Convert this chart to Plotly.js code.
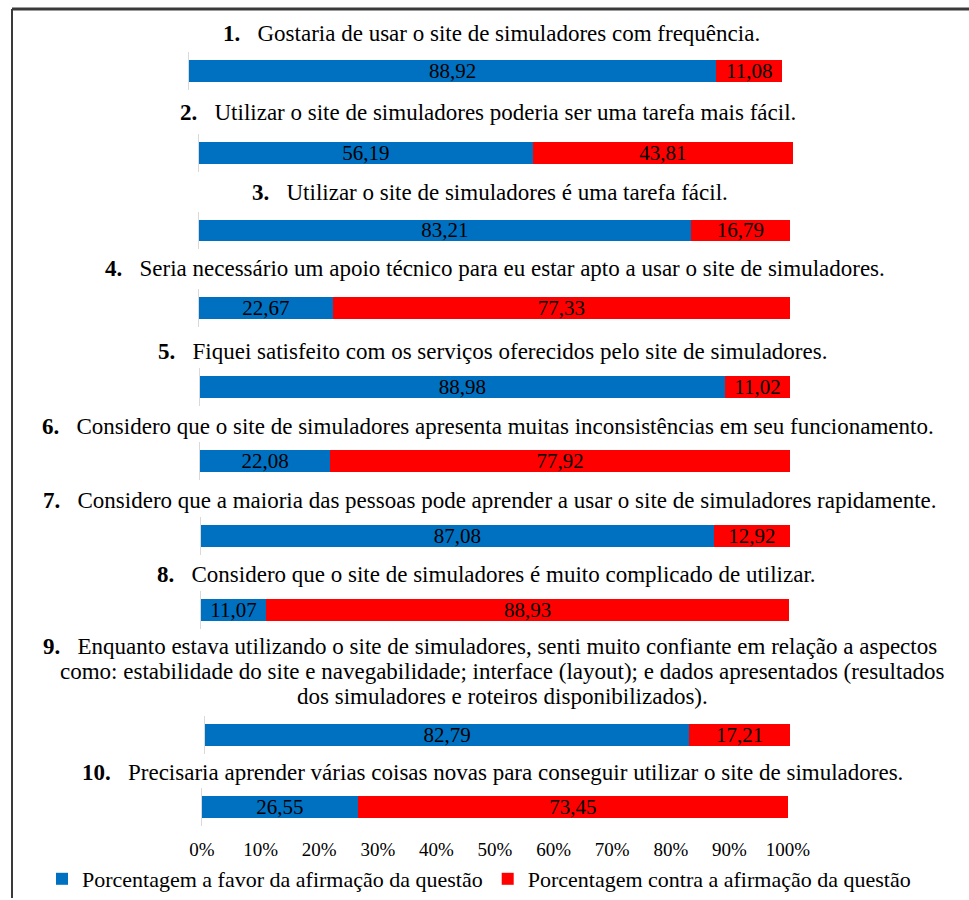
<!DOCTYPE html>
<html>
<head>
<meta charset="utf-8">
<script src="https://cdn.plot.ly/plotly-3.0.1.min.js"></script>
</head>
<body style="margin:0;background:#fff">
<div id="chart" style="width:969px;height:900px"></div>
<script>
// ---- data ----
const questionNumbers = ['1.', '2.', '3.', '4.', '5.', '6.', '7.', '8.', '9.', '10.'];
const questions = [
  'Gostaria de usar o site de simuladores com frequência.',
  'Utilizar o site de simuladores poderia ser uma tarefa mais fácil.',
  'Utilizar o site de simuladores é uma tarefa fácil.',
  'Seria necessário um apoio técnico para eu estar apto a usar o site de simuladores.',
  'Fiquei satisfeito com os serviços oferecidos pelo site de simuladores.',
  'Considero que o site de simuladores apresenta muitas inconsistências em seu funcionamento.',
  'Considero que a maioria das pessoas pode aprender a usar o site de simuladores rapidamente.',
  'Considero que o site de simuladores é muito complicado de utilizar.',
  'Enquanto estava utilizando o site de simuladores, senti muito confiante em relação a aspectos<br>como: estabilidade do site e navegabilidade; interface (layout); e dados apresentados (resultados<br>dos simuladores e roteiros disponibilizados).',
  'Precisaria aprender várias coisas novas para conseguir utilizar o site de simuladores.'
];
const favor  = [88.92, 56.19, 83.21, 22.67, 88.98, 22.08, 87.08, 11.07, 82.79, 26.55];
const contra = [11.08, 43.81, 16.79, 77.33, 11.02, 77.92, 12.92, 88.93, 17.21, 73.45];
const seriesNames = ['Porcentagem a favor da afirmação da questão', 'Porcentagem contra a afirmação da questão'];
const tickValues = [0, 10, 20, 30, 40, 50, 60, 70, 80, 90, 100];
const tickLabels = ['0%', '10%', '20%', '30%', '40%', '50%', '60%', '70%', '80%', '90%', '100%'];

// ---- layout (pixel placement of each row) ----
const W = 969, H = 900;
const barCenter = [71, 153, 231, 309, 388, 462, 537, 611, 737, 809];
const barLeft   = [189, 199, 199, 199, 200, 200, 201, 201, 205, 202];
const barRight  = [782, 793, 790, 790, 790, 790, 790, 789, 790, 788];
const titleY    = [34, 113, 193, 269, 352, 427, 502, 576, 648, 774];
const titleX    = [491, 488, 490, 495, 492, 488, 490, 487, 490, 492];
const lineStep  = 25;
const rowHalf = 19;
const FONT = 'Liberation Serif';
const BLUE = '#0070C0', RED = '#FF0000';

const px = v => v / W;
const py = v => 1 - v / H;

const traces = [];
const layout = {
  width: W, height: H,
  margin: {l: 0, r: 0, t: 0, b: 0},
  paper_bgcolor: '#ffffff', plot_bgcolor: 'rgba(0,0,0,0)',
  barmode: 'stack', bargap: 1 - 22 / (2 * rowHalf),
  separators: ',.',
  font: {family: FONT, color: '#000'},
  showlegend: true,
  legend: {orientation: 'h', x: px(42), xanchor: 'left', y: py(881), yanchor: 'middle',
           font: {family: FONT, size: 22, color: '#000'}, traceorder: 'normal',
           itemwidth: 30, bgcolor: 'rgba(0,0,0,0)'},
  annotations: [], shapes: []
};

for (let i = 0; i < questions.length; i++) {
  const k = i === 0 ? '' : String(i + 1);
  const xa = 'x' + k, ya = 'y' + k;
  const cat = [questionNumbers[i]];
  traces.push({type: 'bar', orientation: 'h', y: cat, x: [favor[i]], xaxis: xa, yaxis: ya,
    name: seriesNames[0], marker: {color: BLUE}, showlegend: i === 0, legendgroup: 'a',
    texttemplate: '%{x:.2f}', textposition: 'inside', insidetextanchor: 'middle', textangle: 0,
    constraintext: 'none', textfont: {family: FONT, size: 21, color: '#000'}, hoverinfo: 'skip'});
  traces.push({type: 'bar', orientation: 'h', y: cat, x: [contra[i]], xaxis: xa, yaxis: ya,
    name: seriesNames[1], marker: {color: RED}, showlegend: i === 0, legendgroup: 'b',
    texttemplate: '%{x:.2f}', textposition: 'inside', insidetextanchor: 'middle', textangle: 0,
    constraintext: 'none', textfont: {family: FONT, size: 21, color: '#000'}, hoverinfo: 'skip'});

  const last = i === questions.length - 1;
  layout['xaxis' + k] = {
    domain: [px(barLeft[i]), px(barRight[i])], range: [0, 100], anchor: ya,
    showgrid: false, zeroline: false, showline: false, fixedrange: true,
    showticklabels: last, tickvals: tickValues, ticktext: tickLabels, ticks: '',
    ticklabelstandoff: 10, tickfont: {family: FONT, size: 19, color: '#000'}
  };
  layout['yaxis' + k] = {
    domain: [py(barCenter[i] + rowHalf), py(barCenter[i] - rowHalf)], anchor: xa,
    type: 'category', showgrid: false, zeroline: false, showline: true,
    linecolor: '#d9d9d9', linewidth: 1, showticklabels: false, ticks: '', fixedrange: true
  };
  // question title, one annotation per line
  const lines = questions[i].split('<br>');
  lines.forEach((ln, j) => {
    layout.annotations.push({
      xref: 'paper', yref: 'paper', x: px(titleX[i] + (j === 0 ? 0 : 12)), y: py(titleY[i] + j * lineStep),
      xanchor: 'center', yanchor: 'middle', showarrow: false, align: 'center',
      text: (j === 0 ? '<b>' + questionNumbers[i] + '</b>\u00a0\u00a0 ' : '') + ln,
      font: {family: FONT, size: 23, color: '#000'}
    });
  });
}

// frame of the original figure (top and left edges)
layout.shapes.push({type: 'line', xref: 'paper', yref: 'paper', x0: px(12), x1: 1, y0: py(9), y1: py(9),
  line: {color: '#3a3a3a', width: 3}});
layout.shapes.push({type: 'line', xref: 'paper', yref: 'paper', x0: px(12), x1: px(12), y0: py(9), y1: 0,
  line: {color: '#3a3a3a', width: 2}});

Plotly.newPlot('chart', traces, layout, {displayModeBar: false, staticPlot: true});
</script>
</body>
</html>
